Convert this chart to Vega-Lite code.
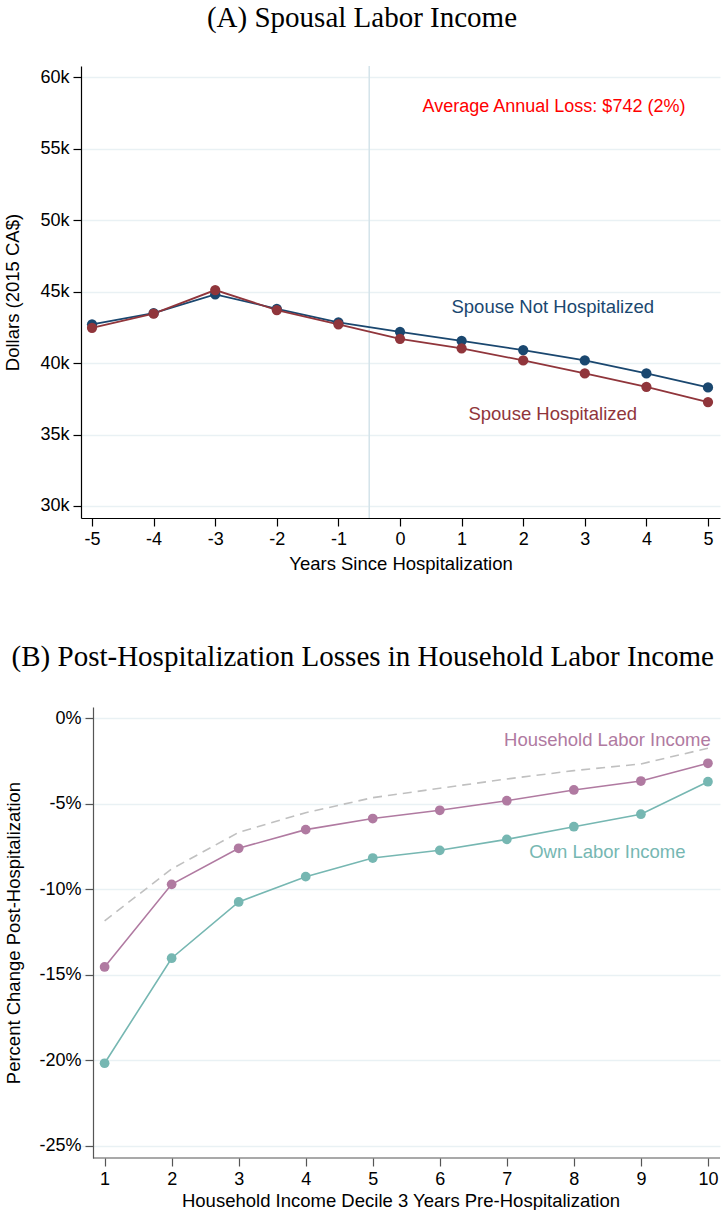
{
  "$schema": "https://vega.github.io/schema/vega-lite/v6.json",
  "padding": {"left": 3, "top": 4, "right": 3, "bottom": 0},
  "background": "white",
  "config": {
    "font": "Liberation Sans",
    "view": {"stroke": null},
    "axis": {
      "labelFont": "Liberation Sans",
      "labelFontSize": 18,
      "labelColor": "#000000",
      "titleFont": "Liberation Sans",
      "titleFontSize": 18.5,
      "titleFontWeight": "normal",
      "titleColor": "#000000",
      "tickColor": "#000000",
      "domainColor": "#000000",
      "tickSize": 8,
      "tickWidth": 1.2,
      "domainWidth": 1.2,
      "labelPadding": 4,
      "gridColor": "#e9f1f4",
      "gridWidth": 1.5
    },
    "title": {
      "font": "Liberation Serif",
      "fontSize": 29,
      "fontWeight": "normal",
      "color": "#000000",
      "frame": "bounds",
      "anchor": "middle"
    }
  },
  "datasets": {
    "spousal": [
      {"year": -5, "group": "Spouse Not Hospitalized", "dollars": 42710},
      {"year": -4, "group": "Spouse Not Hospitalized", "dollars": 43490},
      {"year": -3, "group": "Spouse Not Hospitalized", "dollars": 44810},
      {"year": -2, "group": "Spouse Not Hospitalized", "dollars": 43800},
      {"year": -1, "group": "Spouse Not Hospitalized", "dollars": 42850},
      {"year": 0, "group": "Spouse Not Hospitalized", "dollars": 42190},
      {"year": 1, "group": "Spouse Not Hospitalized", "dollars": 41560},
      {"year": 2, "group": "Spouse Not Hospitalized", "dollars": 40910},
      {"year": 3, "group": "Spouse Not Hospitalized", "dollars": 40190},
      {"year": 4, "group": "Spouse Not Hospitalized", "dollars": 39280},
      {"year": 5, "group": "Spouse Not Hospitalized", "dollars": 38300},
      {"year": -5, "group": "Spouse Hospitalized", "dollars": 42470},
      {"year": -4, "group": "Spouse Hospitalized", "dollars": 43460},
      {"year": -3, "group": "Spouse Hospitalized", "dollars": 45110},
      {"year": -2, "group": "Spouse Hospitalized", "dollars": 43710},
      {"year": -1, "group": "Spouse Hospitalized", "dollars": 42710},
      {"year": 0, "group": "Spouse Hospitalized", "dollars": 41700},
      {"year": 1, "group": "Spouse Hospitalized", "dollars": 41030},
      {"year": 2, "group": "Spouse Hospitalized", "dollars": 40190},
      {"year": 3, "group": "Spouse Hospitalized", "dollars": 39280},
      {"year": 4, "group": "Spouse Hospitalized", "dollars": 38340},
      {"year": 5, "group": "Spouse Hospitalized", "dollars": 37270}
    ],
    "deciles": [
      {"decile": 1, "series": "Own Labor Income", "pct": -20.17},
      {"decile": 2, "series": "Own Labor Income", "pct": -14.03},
      {"decile": 3, "series": "Own Labor Income", "pct": -10.74},
      {"decile": 4, "series": "Own Labor Income", "pct": -9.26},
      {"decile": 5, "series": "Own Labor Income", "pct": -8.17},
      {"decile": 6, "series": "Own Labor Income", "pct": -7.72},
      {"decile": 7, "series": "Own Labor Income", "pct": -7.08},
      {"decile": 8, "series": "Own Labor Income", "pct": -6.34},
      {"decile": 9, "series": "Own Labor Income", "pct": -5.61},
      {"decile": 10, "series": "Own Labor Income", "pct": -3.71},
      {"decile": 1, "series": "Household Labor Income", "pct": -14.54},
      {"decile": 2, "series": "Household Labor Income", "pct": -9.71},
      {"decile": 3, "series": "Household Labor Income", "pct": -7.60},
      {"decile": 4, "series": "Household Labor Income", "pct": -6.51},
      {"decile": 5, "series": "Household Labor Income", "pct": -5.86},
      {"decile": 6, "series": "Household Labor Income", "pct": -5.38},
      {"decile": 7, "series": "Household Labor Income", "pct": -4.82},
      {"decile": 8, "series": "Household Labor Income", "pct": -4.19},
      {"decile": 9, "series": "Household Labor Income", "pct": -3.67},
      {"decile": 10, "series": "Household Labor Income", "pct": -2.63}
    ],
    "benchmark": [
      {"decile": 1, "pct": -11.84},
      {"decile": 2, "pct": -8.81},
      {"decile": 3, "pct": -6.67},
      {"decile": 4, "pct": -5.52},
      {"decile": 5, "pct": -4.64},
      {"decile": 6, "pct": -4.09},
      {"decile": 7, "pct": -3.55},
      {"decile": 8, "pct": -3.06},
      {"decile": 9, "pct": -2.67},
      {"decile": 10, "pct": -1.75}
    ]
  },
  "spacing": 70,
  "resolve": {"scale": {"color": "independent"}},
  "vconcat": [
    {
      "width": 639,
      "height": 452,
      "title": {"text": "(A) Spousal Labor Income", "offset": 32},
      "layer": [
        {
          "data": {"values": [{}]},
          "mark": {"type": "rule", "color": "#d4e3ea", "strokeWidth": 1.5},
          "encoding": {"x": {"datum": -0.5, "type": "quantitative"}}
        },
        {
          "data": {"name": "spousal"},
          "mark": {"type": "line", "strokeWidth": 1.8, "point": {"filled": true, "size": 105, "opacity": 1}},
          "encoding": {
            "x": {
              "field": "year",
              "type": "quantitative",
              "scale": {"domain": [-5.179, 5.195], "nice": false, "zero": false},
              "axis": {
                "title": "Years Since Hospitalization",
                "values": [-5, -4, -3, -2, -1, 0, 1, 2, 3, 4, 5],
                "labelExpr": "'' + datum.value",
                "grid": false,
                "titlePadding": 6
              }
            },
            "y": {
              "field": "dollars",
              "type": "quantitative",
              "scale": {"domain": [29160, 60790], "nice": false, "zero": false},
              "axis": {
                "title": "Dollars (2015 CA$)",
                "values": [30000, 35000, 40000, 45000, 50000, 55000, 60000],
                "format": "~s",
                "grid": true,
                "titlePadding": 17
              }
            },
            "color": {
              "field": "group",
              "type": "nominal",
              "scale": {"domain": ["Spouse Not Hospitalized", "Spouse Hospitalized"], "range": ["#1a476f", "#90353b"]},
              "legend": null
            }
          }
        },
        {
          "data": {"values": [{}]},
          "mark": {"type": "text", "text": "Average Annual Loss: $742 (2%)", "color": "#ff0000", "fontSize": 18, "font": "Liberation Sans", "align": "center", "baseline": "middle"},
          "encoding": {"x": {"datum": 2.5, "type": "quantitative"}, "y": {"datum": 57920, "type": "quantitative"}}
        },
        {
          "data": {"values": [{}]},
          "mark": {"type": "text", "text": "Spouse Not Hospitalized", "color": "#1a476f", "fontSize": 18.5, "font": "Liberation Sans", "align": "center", "baseline": "middle"},
          "encoding": {"x": {"datum": 2.48, "type": "quantitative"}, "y": {"datum": 43930, "type": "quantitative"}}
        },
        {
          "data": {"values": [{}]},
          "mark": {"type": "text", "text": "Spouse Hospitalized", "color": "#90353b", "fontSize": 18.5, "font": "Liberation Sans", "align": "center", "baseline": "middle"},
          "encoding": {"x": {"datum": 2.48, "type": "quantitative"}, "y": {"datum": 36440, "type": "quantitative"}}
        }
      ]
    },
    {
      "width": 639,
      "height": 451,
      "title": {"text": "(B) Post-Hospitalization Losses in Household Labor Income", "offset": 35},
      "layer": [
        {
          "data": {"name": "benchmark"},
          "mark": {"type": "line", "color": "#c0c0c0", "strokeWidth": 1.6, "strokeDash": [9, 6]},
          "encoding": {
            "x": {
              "field": "decile",
              "type": "quantitative",
              "scale": {"domain": [0.648, 10.18], "nice": false, "zero": false},
              "axis": {
                "title": "Household Income Decile 3 Years Pre-Hospitalization",
                "values": [1, 2, 3, 4, 5, 6, 7, 8, 9, 10],
                "format": "d",
                "grid": false,
                "domain": false,
                "tickColor": "#555555",
                "titlePadding": 3
              }
            },
            "y": {
              "field": "pct",
              "type": "quantitative",
              "scale": {"domain": [-25.71, 0.66], "nice": false, "zero": false},
              "axis": {
                "title": "Percent Change Post-Hospitalization",
                "values": [-25, -20, -15, -10, -5, 0],
                "labelExpr": "datum.value + '%'",
                "grid": true,
                "offset": -12,
                "domainColor": "#555555",
                "tickColor": "#555555",
                "titlePadding": 15
              }
            }
          }
        },
        {
          "data": {"values": [{}]},
          "mark": {"type": "rule", "color": "#555555", "strokeWidth": 1.2},
          "encoding": {
            "x": {"datum": 0.827, "type": "quantitative"},
            "x2": {"datum": 10.18},
            "y": {"datum": -25.71, "type": "quantitative"}
          }
        },
        {
          "data": {"name": "deciles"},
          "mark": {"type": "line", "strokeWidth": 1.6, "point": {"filled": true, "size": 95, "opacity": 1}},
          "encoding": {
            "x": {"field": "decile", "type": "quantitative"},
            "y": {"field": "pct", "type": "quantitative"},
            "color": {
              "field": "series",
              "type": "nominal",
              "scale": {"domain": ["Own Labor Income", "Household Labor Income"], "range": ["#76b7b2", "#b07aa1"]},
              "legend": null
            }
          }
        },
        {
          "data": {"values": [{}]},
          "mark": {"type": "text", "text": "Household Labor Income", "color": "#b07aa1", "fontSize": 18.5, "font": "Liberation Sans", "align": "center", "baseline": "middle"},
          "encoding": {"x": {"datum": 8.5, "type": "quantitative"}, "y": {"datum": -1.27, "type": "quantitative"}}
        },
        {
          "data": {"values": [{}]},
          "mark": {"type": "text", "text": "Own Labor Income", "color": "#76b7b2", "fontSize": 18.5, "font": "Liberation Sans", "align": "center", "baseline": "middle"},
          "encoding": {"x": {"datum": 8.5, "type": "quantitative"}, "y": {"datum": -7.81, "type": "quantitative"}}
        }
      ]
    }
  ]
}
